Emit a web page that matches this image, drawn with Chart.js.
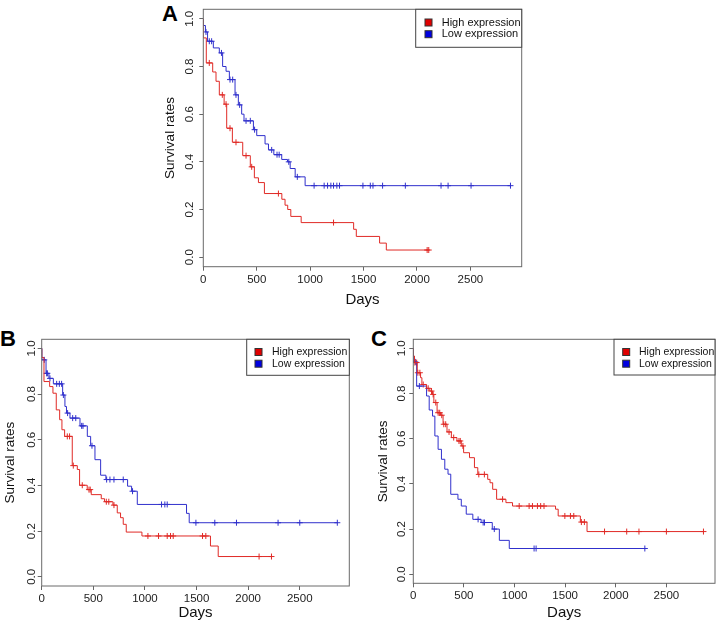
<!DOCTYPE html>
<html>
<head>
<meta charset="utf-8">
<script src="https://cdn.jsdelivr.net/npm/chart.js@4.4.1/dist/chart.umd.min.js"></script>
<style>
  html, body { margin: 0; padding: 0; background: #fff; }
  body { width: 720px; height: 624px; position: relative; overflow: hidden; font-family: "Liberation Sans", Arial, sans-serif; }
  canvas { position: absolute; }
  .tag { position: absolute; font-size: 22px; font-weight: bold; line-height: 22px; color: #000; }
</style>
</head>
<body>
<div class="tag" style="left:162px;top:3px">A</div>
<div class="tag" style="left:0px;top:328px">B</div>
<div class="tag" style="left:371px;top:328px">C</div>
<canvas id="chartA" width="380" height="315" style="left:150px;top:0px"></canvas>
<canvas id="chartB" width="356" height="294" style="left:0px;top:330px"></canvas>
<canvas id="chartC" width="355" height="294" style="left:365px;top:330px"></canvas>
<script>
// tick labels shared by all three panels
const X_TICKS = [0, 500, 1000, 1500, 2000, 2500];
const Y_TICKS = [0, 0.2, 0.4, 0.6, 0.8, 1.0];
const SERIES_LABELS = ['High expression', 'Low expression'];

// Panel A - step times (days) / survival after each step, censor times, last follow-up
const A_HIGH_T = [0, 1, 28, 88, 119, 150, 195, 219, 272, 369, 440, 478, 516, 572, 735, 765, 790, 819, 916, 1407, 1432, 1650, 1713];
const A_HIGH_S = [1.0, 0.92, 0.815, 0.777, 0.738, 0.681, 0.642, 0.541, 0.482, 0.426, 0.379, 0.333, 0.313, 0.267, 0.243, 0.218, 0.200, 0.171, 0.145, 0.117, 0.087, 0.059, 0.030];
const A_HIGH_CENS = [56, 178, 213, 250, 306, 400, 453, 703, 1219, 2095, 2110];
const A_HIGH_END = 2110;
const A_LOW_T = [0, 1, 20, 40, 94, 150, 181, 213, 244, 297, 328, 359, 381, 469, 500, 578, 610, 660, 734, 788, 813, 860, 953];
const A_LOW_S = [1.0, 0.972, 0.945, 0.906, 0.878, 0.857, 0.80, 0.78, 0.745, 0.681, 0.639, 0.60, 0.572, 0.535, 0.51, 0.475, 0.45, 0.43, 0.41, 0.40, 0.372, 0.337, 0.30];
const A_LOW_CENS = [25, 56, 78, 170, 250, 275, 306, 340, 400, 440, 480, 640, 690, 710, 800, 880, 1037, 1131, 1163, 1194, 1219, 1250, 1275, 1494, 1563, 1588, 1678, 1891, 2225, 2291, 2506, 2875];
const A_LOW_END = 2875;

// Panel B
const B_HIGH_T = [0, 1, 22, 77, 109, 141, 174, 196, 222, 296, 345, 367, 441, 480, 577, 609, 690, 732, 764, 790, 819, 971, 1635, 1710];
const B_HIGH_S = [1.0, 0.96, 0.855, 0.833, 0.804, 0.731, 0.688, 0.644, 0.615, 0.487, 0.47, 0.401, 0.382, 0.36, 0.342, 0.329, 0.314, 0.28, 0.259, 0.23, 0.196, 0.179, 0.135, 0.089];
const B_HIGH_CENS = [248, 270, 306, 393, 458, 470, 626, 650, 700, 1029, 1132, 1216, 1248, 1274, 1558, 1590, 2106, 2226];
const B_HIGH_END = 2226;
const B_LOW_T = [0, 2, 42, 70, 113, 203, 225, 240, 274, 371, 442, 474, 516, 571, 622, 832, 871, 926, 1403, 1429];
const B_LOW_S = [1.0, 0.95, 0.891, 0.869, 0.845, 0.796, 0.746, 0.717, 0.695, 0.661, 0.615, 0.574, 0.513, 0.445, 0.426, 0.397, 0.375, 0.317, 0.278, 0.237];
const B_LOW_CENS = [25, 48, 55, 80, 145, 171, 193, 210, 251, 300, 330, 387, 400, 487, 629, 661, 700, 790, 880, 1161, 1193, 1216, 1494, 1677, 1887, 2290, 2500, 2864];
const B_LOW_END = 2864;

// Panel C
const C_HIGH_T = [0, 1, 12, 39, 72, 85, 131, 163, 190, 203, 235, 268, 294, 333, 376, 431, 474, 497, 555, 604, 637, 735, 758, 784, 823, 915, 980, 1405, 1431, 1650, 1716];
const C_HIGH_S = [1.0, 0.966, 0.937, 0.892, 0.87, 0.84, 0.823, 0.811, 0.796, 0.76, 0.715, 0.704, 0.664, 0.63, 0.605, 0.59, 0.568, 0.538, 0.516, 0.472, 0.442, 0.42, 0.405, 0.376, 0.332, 0.317, 0.302, 0.288, 0.258, 0.231, 0.189];
const C_HIGH_CENS = [16, 33, 45, 65, 98, 147, 180, 196, 222, 245, 261, 281, 301, 320, 353, 399, 451, 464, 490, 647, 702, 882, 1046, 1144, 1177, 1226, 1258, 1291, 1497, 1552, 1585, 1660, 1690, 1889, 2108, 2229, 2500, 2866];
const C_HIGH_END = 2866;
const C_LOW_T = [0, 2, 33, 131, 157, 190, 213, 245, 278, 311, 343, 370, 441, 474, 523, 588, 670, 780, 850, 948];
const C_LOW_S = [1.0, 0.94, 0.833, 0.789, 0.727, 0.70, 0.612, 0.553, 0.509, 0.465, 0.443, 0.354, 0.332, 0.302, 0.266, 0.243, 0.229, 0.20, 0.15, 0.114];
const C_LOW_CENS = [20, 60, 640, 690, 703, 800, 1193, 1213, 2287];
const C_LOW_END = 2287;

const RED = '#e02a26';
const BLUE = '#3030cc';
const FONT = '"Liberation Sans", Arial, sans-serif';

// survival value of a step curve at time t
function stepAt(T, S, t) {
    let v = S[0];
    for (let i = 0; i < T.length; i++) {
        if (T[i] <= t) v = S[i];
    }
    return v;
}

function kmLine(label, color, box, T, S, end) {
    const pts = T.map((t, i) => ({ x: t, y: S[i] }));
    pts.push({ x: end, y: S[S.length - 1] });
    return {
        label, data: pts, legendColor: box,
        borderColor: color, borderWidth: 1, stepped: 'before',
        pointRadius: 0, fill: false
    };
}

function kmMarks(color, T, S, cens) {
    return {
        label: '', data: cens.map(c => ({ x: c, y: stepAt(T, S, c) })),
        showLine: false, pointStyle: 'cross', pointRadius: 3,
        pointBorderColor: color, pointBorderWidth: 1, borderColor: color
    };
}

// plot box, rotated y tick labels (R style) and boxed legend
const kmFrame = {
    id: 'kmFrame',
    afterDraw(chart, args, opts) {
        const { ctx, chartArea: a } = chart;
        const y = chart.scales.y;
        ctx.save();
        ctx.strokeStyle = '#6a6a6a';
        ctx.lineWidth = 1;
        ctx.strokeRect(a.left, a.top, a.right - a.left, a.bottom - a.top);

        ctx.fillStyle = '#222';
        ctx.font = '11.5px ' + FONT;
        ctx.textAlign = 'center';
        ctx.textBaseline = 'middle';
        y.ticks.forEach(t => {
            ctx.save();
            ctx.translate(a.left - opts.yLabelGap, y.getPixelForValue(t.value));
            ctx.rotate(-Math.PI / 2);
            ctx.fillText(t.value.toFixed(1), 0, 0);
            ctx.restore();
        });

        const lx = a.right - opts.legendW, ly = a.top;
        ctx.fillStyle = '#fff';
        ctx.fillRect(lx, ly, opts.legendW, opts.legendH);
        ctx.strokeStyle = '#444';
        ctx.strokeRect(lx, ly, opts.legendW, opts.legendH);
        ctx.font = opts.legendFont + 'px ' + FONT;
        ctx.textAlign = 'left';
        chart.data.datasets.slice(0, 2).forEach((ds, i) => {
            const cy = ly + opts.rows[i];
            ctx.fillStyle = ds.legendColor;
            ctx.fillRect(lx + opts.boxX, cy - 3.5, 7, 7);
            ctx.strokeStyle = '#333';
            ctx.strokeRect(lx + opts.boxX, cy - 3.5, 7, 7);
            ctx.fillStyle = '#111';
            ctx.fillText(ds.label, lx + opts.textX, cy);
        });
        ctx.restore();
    }
};

function makeChart(id, g, datasets) {
    const canvas = document.getElementById(id);
    return new Chart(canvas.getContext('2d'), {
        type: 'line',
        data: { datasets },
        plugins: [kmFrame],
        options: {
            responsive: false,
            animation: false,
            layout: { padding: { left: 0, top: g.top, right: g.right, bottom: 0 } },
            plugins: {
                legend: { display: false },
                tooltip: { enabled: false },
                kmFrame: g.frame
            },
            scales: {
                x: {
                    type: 'linear', min: 0, max: 2980,
                    afterBuildTicks: s => { s.ticks = X_TICKS.map(v => ({ value: v })); },
                    afterFit: s => { s.height = g.xHeight; },
                    ticks: { font: { family: FONT, size: 11.5 }, color: '#222', padding: 2, maxRotation: 0, autoSkip: false, callback: v => String(v) },
                    grid: { drawOnChartArea: false, tickLength: 4, tickColor: '#666' },
                    border: { display: false },
                    title: { display: true, text: 'Days', color: '#111', font: { family: FONT, size: 15 }, padding: { top: 0, bottom: g.xTitlePad } }
                },
                y: {
                    type: 'linear', min: -0.04, max: 1.04,
                    afterBuildTicks: s => { s.ticks = Y_TICKS.map(v => ({ value: v })); },
                    afterFit: s => { s.width = g.yWidth; },
                    ticks: { display: false },
                    grid: { drawOnChartArea: false, tickLength: 4, tickColor: '#666' },
                    border: { display: false },
                    title: { display: true, text: 'Survival rates', color: '#111', font: { family: FONT, size: 13.5 }, padding: { top: g.yTitlePad, bottom: 0 } }
                }
            }
        }
    });
}

function panelSets(hT, hS, hC, hE, lT, lS, lC, lE) {
    return [
        kmLine(SERIES_LABELS[0], RED, '#e00000', hT, hS, hE),
        kmLine(SERIES_LABELS[1], BLUE, '#0000e0', lT, lS, lE),
        kmMarks(RED, hT, hS, hC),
        kmMarks(BLUE, lT, lS, lC)
    ];
}

makeChart('chartA', {
    top: 9.3, right: 8.3, xHeight: 48.3, yWidth: 53.3, xTitlePad: 6, yTitlePad: 12,
    frame: { yLabelGap: 13.3, legendW: 106, legendH: 38, rows: [13.2, 24.9], boxX: 9.3, textX: 26, legendFont: 11 }
}, panelSets(A_HIGH_T, A_HIGH_S, A_HIGH_CENS, A_HIGH_END, A_LOW_T, A_LOW_S, A_LOW_CENS, A_LOW_END));

makeChart('chartB', {
    top: 9.3, right: 6.7, xHeight: 38, yWidth: 41.7, xTitlePad: 1.8, yTitlePad: 2,
    frame: { yLabelGap: 10, legendW: 102.6, legendH: 36, rows: [12.7, 24.4], boxX: 8.3, textX: 25.3, legendFont: 10.5 }
}, panelSets(B_HIGH_T, B_HIGH_S, B_HIGH_CENS, B_HIGH_END, B_LOW_T, B_LOW_S, B_LOW_CENS, B_LOW_END));

makeChart('chartC', {
    top: 9.3, right: 3.3, xHeight: 40.7, yWidth: 48.3, xTitlePad: 1.8, yTitlePad: 10.2,
    frame: { yLabelGap: 11.7, legendW: 101, legendH: 35.7, rows: [12.7, 24.4], boxX: 8.7, textX: 25, legendFont: 10.5 }
}, panelSets(C_HIGH_T, C_HIGH_S, C_HIGH_CENS, C_HIGH_END, C_LOW_T, C_LOW_S, C_LOW_CENS, C_LOW_END));
</script>
</body>
</html>
